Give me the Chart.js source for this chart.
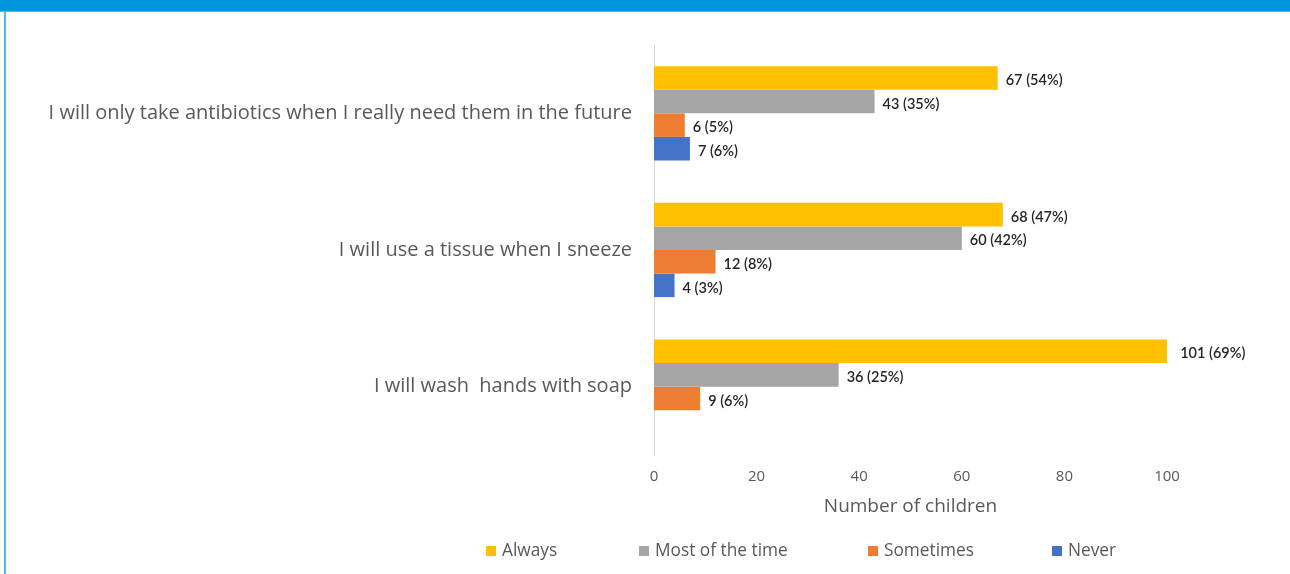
<!DOCTYPE html>
<html>
<head>
<meta charset="utf-8">
<script src="https://cdn.jsdelivr.net/npm/chart.js@4"></script>
<style>
  html, body { margin: 0; padding: 0; background: #fff; }
  #wrap { position: relative; width: 1290px; height: 574px; overflow: hidden; }
  #topbar { position: absolute; left: 0; top: 0; width: 1290px; height: 11px; background: #0096DB; border-bottom: 1px solid #4DB8EC; }
  #leftline { position: absolute; left: 4px; top: 11px; width: 2px; height: 563px; background: #4DB8EC; }
  canvas { position: absolute; left: 0; top: 0; }
</style>
</head>
<body>
<div id="wrap">
  <canvas id="c" width="1290" height="574"></canvas>
  <div id="topbar"></div>
  <div id="leftline"></div>
</div>
<script>
const categories = [
  "I will only take antibiotics when I really need them in the future",
  "I will use a tissue when I sneeze",
  "I will wash  hands with soap"
];
const seriesNames = ["Always", "Most of the time", "Sometimes", "Never"];
const alwaysValues = [67, 68, 101];
const mostValues = [43, 60, 36];
const sometimesValues = [6, 12, 9];
const neverValues = [7, 4, null];
const alwaysPct = [54, 47, 69];
const mostPct = [35, 42, 25];
const sometimesPct = [5, 8, 6];
const neverPct = [6, 3, null];
const xTicks = [0, 20, 40, 60, 80, 100];
const colors = ["#FFC000", "#A5A5A5", "#ED7D31", "#4472C4"];

const valueSets = [alwaysValues, mostValues, sometimesValues, neverValues];
const pctSets = [alwaysPct, mostPct, sometimesPct, neverPct];

const AXIS_FONT = "'Open Sans', 'Liberation Sans', sans-serif";

const dataLabels = {
  id: 'dataLabels',
  afterDatasetsDraw(chart) {
    const ctx = chart.ctx;
    ctx.save();
    ctx.font = "600 14.5px Lato, 'Open Sans', sans-serif";
    ctx.fillStyle = '#262626';
    ctx.textAlign = 'left';
    ctx.textBaseline = 'middle';
    chart.data.datasets.forEach((ds, di) => {
      const meta = chart.getDatasetMeta(di);
      meta.data.forEach((bar, i) => {
        const v = ds.data[i];
        if (v === null || v === undefined) return;
        const txt = v + ' (' + pctSets[di][i] + '%)';
        ctx.fillText(txt, bar.x + 8, bar.y + 2.5);
      });
    });
    ctx.restore();
  }
};

const customLegend = {
  id: 'customLegend',
  afterDraw(chart) {
    const ctx = chart.ctx;
    const textStarts = [502, 655, 884, 1068];
    const y = 551;
    ctx.save();
    ctx.font = "17.3px " + AXIS_FONT;
    ctx.textBaseline = 'middle';
    ctx.textAlign = 'left';
    chart.data.datasets.forEach((ds, di) => {
      const tx = textStarts[di];
      ctx.fillStyle = ds.backgroundColor;
      ctx.fillRect(tx - 16, y - 5, 10, 10);
      ctx.fillStyle = '#595959';
      ctx.fillText(ds.label, tx, y);
    });
    ctx.restore();
  }
};

new Chart(document.getElementById('c'), {
  type: 'bar',
  data: {
    labels: categories,
    datasets: seriesNames.map((name, i) => ({
      label: name,
      data: valueSets[i],
      backgroundColor: colors[i],
      borderWidth: 0,
      categoryPercentage: 0.69,
      barPercentage: 1.0
    }))
  },
  options: {
    indexAxis: 'y',
    responsive: false,
    animation: false,
    devicePixelRatio: 1,
    layout: { padding: { left: 0, right: 123, top: 45, bottom: 0 } },
    plugins: {
      legend: { display: false },
      tooltip: { enabled: false }
    },
    scales: {
      y: {
        type: 'category',
        grid: { display: false, drawTicks: false },
        border: { display: true, color: '#D9D9D9', width: 1 },
        ticks: {
          color: '#595959',
          font: { family: AXIS_FONT, size: 20 },
          padding: 22
        },
        afterFit(s) { s.width = 654; }
      },
      x: {
        min: 0,
        max: 100,
        afterBuildTicks(s) { s.ticks = xTicks.map(v => ({ value: v })); },
        grid: { display: false, drawTicks: false },
        border: { display: false },
        ticks: {
          color: '#595959',
          font: { family: AXIS_FONT, size: 15 },
          padding: 13,
          maxRotation: 0
        },
        title: {
          display: true,
          text: 'Number of children',
          color: '#595959',
          font: { family: AXIS_FONT, size: 19 },
          padding: { top: 0, bottom: 56 }
        },
        afterFit(s) { s.height = 119; }
      }
    }
  },
  plugins: [dataLabels, customLegend]
});
</script>
</body>
</html>
